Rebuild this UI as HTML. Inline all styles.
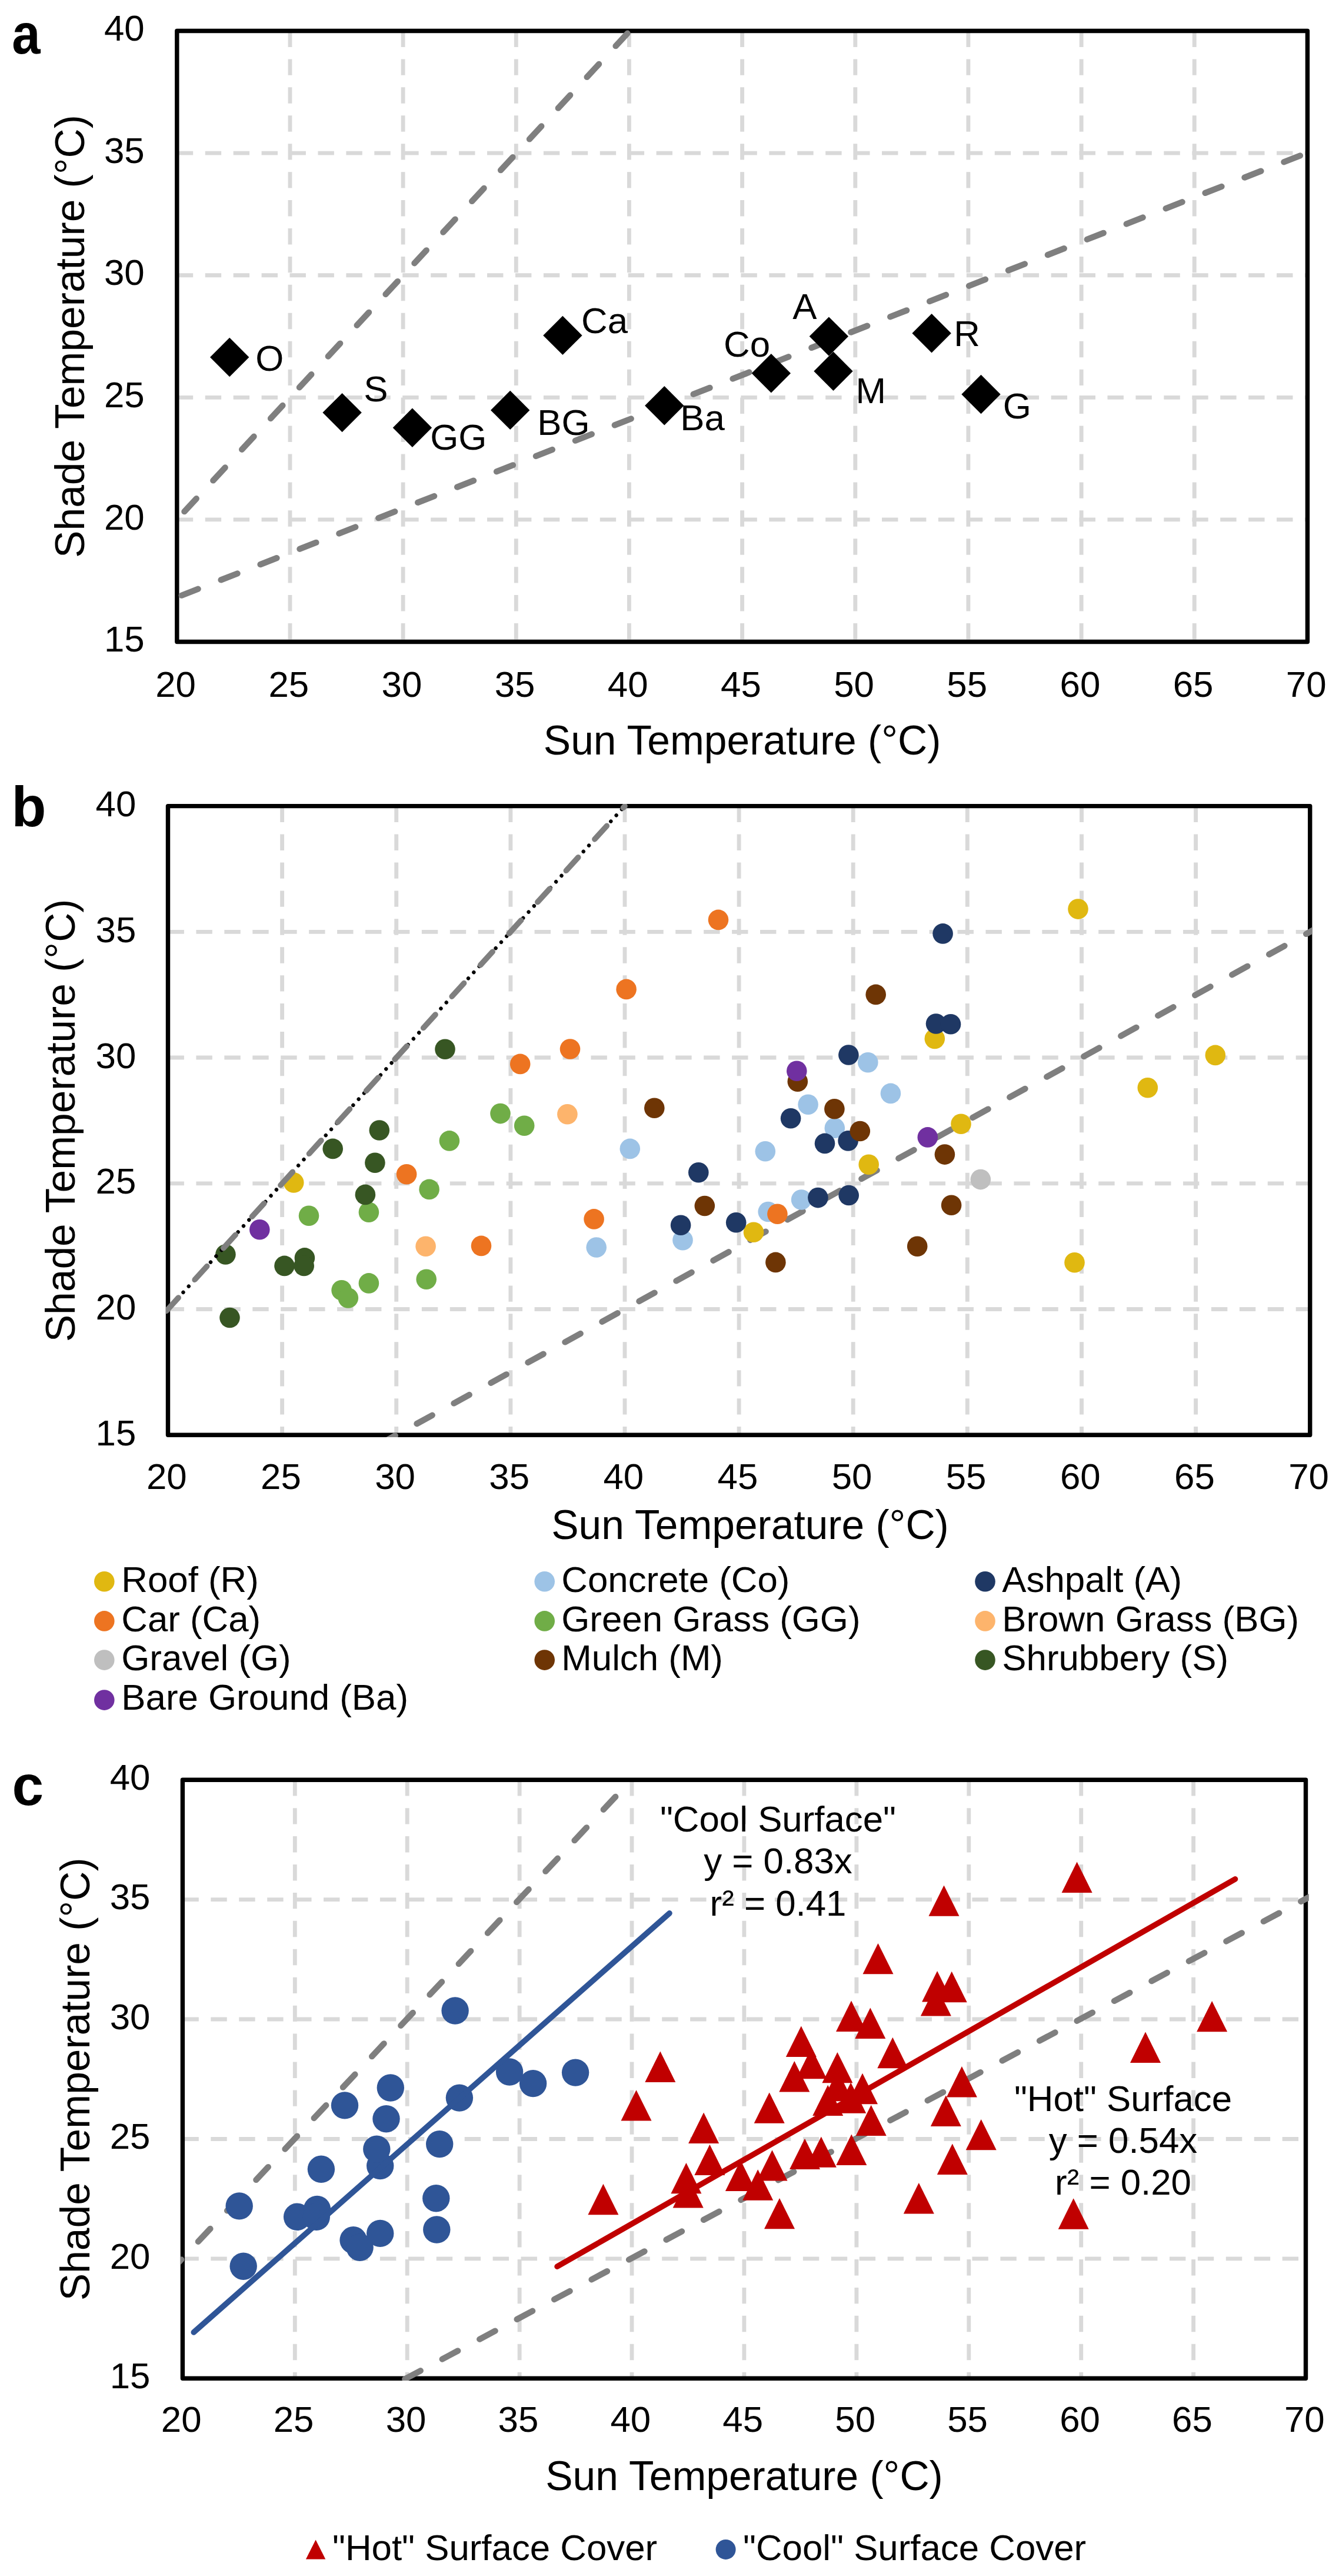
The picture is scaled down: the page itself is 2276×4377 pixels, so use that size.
<!DOCTYPE html>
<html lang="en"><head><meta charset="utf-8"><title>Sun vs shade surface temperature</title>
<style>html,body{margin:0;padding:0;background:#fff}svg{display:block}</style></head>
<body>
<svg width="2276" height="4377" viewBox="0 0 2276 4377" font-family='"Liberation Sans", Arial, Helvetica, sans-serif' fill="#000">
<rect width="2276" height="4377" fill="#fff"/>
<clipPath id="ca"><rect x="300.8" y="48.5" width="1921.6000000000001" height="1042.0"/></clipPath>
<g stroke="#d9d9d9" stroke-width="6.85" stroke-dasharray="27.4 20.53" fill="none"><line x1="493.0" y1="52.5" x2="493.0" y2="1090.5"/><line x1="685.1" y1="52.5" x2="685.1" y2="1090.5"/><line x1="877.3" y1="52.5" x2="877.3" y2="1090.5"/><line x1="1069.4" y1="52.5" x2="1069.4" y2="1090.5"/><line x1="1261.6" y1="52.5" x2="1261.6" y2="1090.5"/><line x1="1453.8" y1="52.5" x2="1453.8" y2="1090.5"/><line x1="1645.9" y1="52.5" x2="1645.9" y2="1090.5"/><line x1="1838.1" y1="52.5" x2="1838.1" y2="1090.5"/><line x1="2030.2" y1="52.5" x2="2030.2" y2="1090.5"/><line x1="300.8" y1="882.9" x2="2222.4" y2="882.9"/><line x1="300.8" y1="675.3" x2="2222.4" y2="675.3"/><line x1="300.8" y1="467.7" x2="2222.4" y2="467.7"/><line x1="300.8" y1="260.1" x2="2222.4" y2="260.1"/></g>
<rect x="300.8" y="52.5" width="1921.6" height="1038.0" fill="none" stroke="#000" stroke-width="7.4" stroke-linejoin="round"/>
<g clip-path="url(#ca)" stroke="#7f7f7f" stroke-width="10.3" stroke-linecap="round" stroke-dasharray="30 41.9" fill="none"><line x1="313.4" y1="869.2" x2="1066.5" y2="56.7"/><line x1="308.7" y1="1011.7" x2="2209.9" y2="264.5"/></g>
<g font-size="61.8"><text x="434.2" y="629.5">O</text><text x="618.2" y="682">S</text><text x="731.2" y="763.5">GG</text><text x="913.2" y="739">BG</text><text x="988.1" y="565.6">Ca</text><text x="1156.2" y="731.4">Ba</text><text x="1230.1" y="605.5">Co</text><text x="1347.2" y="542">A</text><text x="1454.5" y="685.4">M</text><text x="1621.2" y="588.2">R</text><text x="1704.7" y="710.5">G</text></g>
<g fill="#000"><path d="M357.0 607.0L390.2 573.8L423.4 607.0L390.2 640.2Z"/><path d="M548.4 701.1L581.6 667.9L614.8 701.1L581.6 734.3Z"/><path d="M667.7 726.7L700.9 693.5L734.1 726.7L700.9 759.9Z"/><path d="M834.0 696.9L867.2 663.7L900.4 696.9L867.2 730.1Z"/><path d="M923.2 569.9L956.4 536.7L989.6 569.9L956.4 603.1Z"/><path d="M1096.1 689.3L1129.3 656.1L1162.5 689.3L1129.3 722.5Z"/><path d="M1277.6 634.2L1310.8 601.0L1344.0 634.2L1310.8 667.4Z"/><path d="M1375.7 571.6L1408.9 538.4L1442.1 571.6L1408.9 604.8Z"/><path d="M1383.3 630.8L1416.5 597.6L1449.7 630.8L1416.5 664.0Z"/><path d="M1550.4 566.2L1583.6 533.0L1616.8 566.2L1583.6 599.4Z"/><path d="M1634.3 670.0L1667.5 636.8L1700.7 670.0L1667.5 703.2Z"/></g>
<g font-size="61.8"><text x="298.6" y="1184.0" text-anchor="middle">20</text><text x="490.8" y="1184.0" text-anchor="middle">25</text><text x="682.9" y="1184.0" text-anchor="middle">30</text><text x="875.1" y="1184.0" text-anchor="middle">35</text><text x="1067.2" y="1184.0" text-anchor="middle">40</text><text x="1259.4" y="1184.0" text-anchor="middle">45</text><text x="1451.6" y="1184.0" text-anchor="middle">50</text><text x="1643.7" y="1184.0" text-anchor="middle">55</text><text x="1835.9" y="1184.0" text-anchor="middle">60</text><text x="2028.0" y="1184.0" text-anchor="middle">65</text><text x="2220.2" y="1184.0" text-anchor="middle">70</text><text x="245.7" y="1107.1" text-anchor="end">15</text><text x="245.7" y="899.5" text-anchor="end">20</text><text x="245.7" y="691.9" text-anchor="end">25</text><text x="245.7" y="484.3" text-anchor="end">30</text><text x="245.7" y="276.7" text-anchor="end">35</text><text x="245.7" y="69.1" text-anchor="end">40</text></g>
<text x="1261.6" y="1282.2" text-anchor="middle" font-size="69.5">Sun Temperature (°C)</text>
<text transform="translate(142.9,571.5) rotate(-90)" text-anchor="middle" font-size="69.5">Shade Temperature (°C)</text>
<text transform="translate(20.2,91.2) scale(0.9,1)" font-size="96.5" font-weight="bold">a</text>
<clipPath id="cb"><rect x="281.8" y="1365.8999999999999" width="1948.6" height="1076.0"/></clipPath>
<g stroke="#d9d9d9" stroke-width="6.85" stroke-dasharray="27.4 20.53" fill="none"><line x1="479.6" y1="1369.6" x2="479.6" y2="2438.2"/><line x1="673.7" y1="1369.6" x2="673.7" y2="2438.2"/><line x1="867.9" y1="1369.6" x2="867.9" y2="2438.2"/><line x1="1062.0" y1="1369.6" x2="1062.0" y2="2438.2"/><line x1="1256.1" y1="1369.6" x2="1256.1" y2="2438.2"/><line x1="1450.2" y1="1369.6" x2="1450.2" y2="2438.2"/><line x1="1644.3" y1="1369.6" x2="1644.3" y2="2438.2"/><line x1="1838.5" y1="1369.6" x2="1838.5" y2="2438.2"/><line x1="2032.6" y1="1369.6" x2="2032.6" y2="2438.2"/><line x1="285.5" y1="2224.5" x2="2226.7" y2="2224.5"/><line x1="285.5" y1="2010.8" x2="2226.7" y2="2010.8"/><line x1="285.5" y1="1797.0" x2="2226.7" y2="1797.0"/><line x1="285.5" y1="1583.3" x2="2226.7" y2="1583.3"/></g>
<rect x="285.5" y="1369.6" width="1941.2" height="1068.6" fill="none" stroke="#000" stroke-width="7.4" stroke-linejoin="round"/>
<g clip-path="url(#cb)"><line x1="645.5" y1="2453.8" x2="2306.7" y2="1539.3" stroke="#7f7f7f" stroke-width="10.3" stroke-linecap="round" stroke-dasharray="30 41.9"/></g>
<g fill="#e0b811"><circle cx="499.2" cy="2009.4" r="17.3"/><circle cx="1476.7" cy="1978.7" r="17.3"/><circle cx="1633.5" cy="1909.7" r="17.3"/><circle cx="1281.0" cy="2093.8" r="17.3"/><circle cx="1826.5" cy="2145.3" r="17.3"/><circle cx="1832.5" cy="1544.6" r="17.3"/><circle cx="1588.8" cy="1764.9" r="17.3"/><circle cx="2065.8" cy="1792.9" r="17.3"/><circle cx="1950.8" cy="1848.2" r="17.3"/></g><g fill="#9dc3e6"><circle cx="1070.8" cy="1951.9" r="17.3"/><circle cx="1013.7" cy="2119.5" r="17.3"/><circle cx="1160.5" cy="2107.2" r="17.3"/><circle cx="1373.6" cy="1876.8" r="17.3"/><circle cx="1418.8" cy="1916.8" r="17.3"/><circle cx="1300.8" cy="1956.3" r="17.3"/><circle cx="1362.1" cy="2038.5" r="17.3"/><circle cx="1305.7" cy="2059.0" r="17.3"/><circle cx="1513.9" cy="1857.9" r="17.3"/><circle cx="1475.3" cy="1805.2" r="17.3"/></g><g fill="#1f3864"><circle cx="1187.3" cy="1992.2" r="17.3"/><circle cx="1157.1" cy="2081.8" r="17.3"/><circle cx="1251.2" cy="2077.3" r="17.3"/><circle cx="1344.1" cy="1900.3" r="17.3"/><circle cx="1402.0" cy="1942.9" r="17.3"/><circle cx="1441.6" cy="1938.4" r="17.3"/><circle cx="1390.4" cy="2035.1" r="17.3"/><circle cx="1442.7" cy="2031.0" r="17.3"/><circle cx="1442.4" cy="1792.5" r="17.3"/><circle cx="1602.6" cy="1586.4" r="17.3"/><circle cx="1591.0" cy="1739.5" r="17.3"/><circle cx="1616.0" cy="1740.3" r="17.3"/></g><g fill="#ed7421"><circle cx="691.1" cy="1995.2" r="17.3"/><circle cx="818.0" cy="2116.9" r="17.3"/><circle cx="1009.6" cy="2071.4" r="17.3"/><circle cx="1321.4" cy="2062.8" r="17.3"/><circle cx="884.2" cy="1807.9" r="17.3"/><circle cx="969.0" cy="1782.5" r="17.3"/><circle cx="1221.0" cy="1562.9" r="17.3"/><circle cx="1064.6" cy="1680.9" r="17.3"/></g><g fill="#70ad47"><circle cx="763.9" cy="1938.4" r="17.3"/><circle cx="729.6" cy="2020.9" r="17.3"/><circle cx="525.0" cy="2065.8" r="17.3"/><circle cx="626.9" cy="2059.8" r="17.3"/><circle cx="626.9" cy="2180.4" r="17.3"/><circle cx="580.6" cy="2192.3" r="17.3"/><circle cx="591.8" cy="2205.4" r="17.3"/><circle cx="724.7" cy="2173.7" r="17.3"/><circle cx="850.5" cy="1892.1" r="17.3"/><circle cx="891.2" cy="1912.7" r="17.3"/></g><g fill="#fdb46c"><circle cx="723.6" cy="2117.7" r="17.3"/><circle cx="964.4" cy="1893.2" r="17.3"/></g><g fill="#bfbfbf"><circle cx="1666.8" cy="2004.1" r="17.3"/></g><g fill="#6e3505"><circle cx="1112.3" cy="1882.8" r="17.3"/><circle cx="1197.8" cy="2049.0" r="17.3"/><circle cx="1418.4" cy="1884.3" r="17.3"/><circle cx="1461.8" cy="1922.0" r="17.3"/><circle cx="1605.9" cy="1961.6" r="17.3"/><circle cx="1617.1" cy="2047.8" r="17.3"/><circle cx="1559.2" cy="2117.7" r="17.3"/><circle cx="1318.4" cy="2144.9" r="17.3"/><circle cx="1355.8" cy="1837.7" r="17.3"/><circle cx="1488.7" cy="1689.9" r="17.3"/></g><g fill="#375623"><circle cx="644.8" cy="1920.5" r="17.3"/><circle cx="565.7" cy="1951.9" r="17.3"/><circle cx="637.4" cy="1975.8" r="17.3"/><circle cx="620.9" cy="2029.9" r="17.3"/><circle cx="383.4" cy="2131.5" r="17.3"/><circle cx="483.5" cy="2150.9" r="17.3"/><circle cx="517.9" cy="2137.4" r="17.3"/><circle cx="516.7" cy="2150.9" r="17.3"/><circle cx="390.5" cy="2239.0" r="17.3"/><circle cx="756.5" cy="1782.8" r="17.3"/></g><g fill="#7030a0"><circle cx="441.3" cy="2089.3" r="17.3"/><circle cx="1576.8" cy="1932.4" r="17.3"/><circle cx="1354.3" cy="1819.8" r="17.3"/></g>
<g clip-path="url(#cb)" fill="none" stroke-linecap="round"><line x1="285.5" y1="2224.5" x2="1062.0" y2="1369.6" stroke="#000" stroke-width="6.4" stroke-dasharray="0.01 13.85" stroke-dashoffset="2.95"/><line x1="282.7" y1="2227.6" x2="1062.0" y2="1369.6" stroke="#7f7f7f" stroke-width="9.5" stroke-dasharray="30.5 41.7"/></g>
<g font-size="61.8"><text x="283.3" y="2529.5" text-anchor="middle">20</text><text x="477.4" y="2529.5" text-anchor="middle">25</text><text x="671.5" y="2529.5" text-anchor="middle">30</text><text x="865.7" y="2529.5" text-anchor="middle">35</text><text x="1059.8" y="2529.5" text-anchor="middle">40</text><text x="1253.9" y="2529.5" text-anchor="middle">45</text><text x="1448.0" y="2529.5" text-anchor="middle">50</text><text x="1642.1" y="2529.5" text-anchor="middle">55</text><text x="1836.3" y="2529.5" text-anchor="middle">60</text><text x="2030.4" y="2529.5" text-anchor="middle">65</text><text x="2224.5" y="2529.5" text-anchor="middle">70</text><text x="231.3" y="2455.8" text-anchor="end">15</text><text x="231.3" y="2242.1" text-anchor="end">20</text><text x="231.3" y="2028.4" text-anchor="end">25</text><text x="231.3" y="1814.6" text-anchor="end">30</text><text x="231.3" y="1600.9" text-anchor="end">35</text><text x="231.3" y="1387.2" text-anchor="end">40</text></g>
<text x="1275.0" y="2615.4" text-anchor="middle" font-size="69.5">Sun Temperature (°C)</text>
<text transform="translate(127.4,1903.9) rotate(-90)" text-anchor="middle" font-size="69.5">Shade Temperature (°C)</text>
<text transform="translate(19.4,1404.4) scale(1.0,1)" font-size="96.5" font-weight="bold">b</text>
<g font-size="61.8"><circle cx="177.3" cy="2687.3" r="17.3" fill="#e0b811"/><text x="206.3" y="2704.8">Roof (R)</text><circle cx="925.7" cy="2687.3" r="17.3" fill="#9dc3e6"/><text x="954.3" y="2704.8">Concrete (Co)</text><circle cx="1674.5" cy="2687.3" r="17.3" fill="#1f3864"/><text x="1703.3" y="2704.8">Ashpalt (A)</text><circle cx="177.3" cy="2754.4" r="17.3" fill="#ed7421"/><text x="206.3" y="2771.6">Car (Ca)</text><circle cx="925.7" cy="2754.4" r="17.3" fill="#70ad47"/><text x="954.3" y="2771.6">Green Grass (GG)</text><circle cx="1674.5" cy="2754.4" r="17.3" fill="#fdb46c"/><text x="1703.3" y="2771.6">Brown Grass (BG)</text><circle cx="177.3" cy="2820.6" r="17.3" fill="#bfbfbf"/><text x="206.3" y="2838.4">Gravel (G)</text><circle cx="925.7" cy="2820.6" r="17.3" fill="#6e3505"/><text x="954.3" y="2838.4">Mulch (M)</text><circle cx="1674.5" cy="2820.6" r="17.3" fill="#375623"/><text x="1703.3" y="2838.4">Shrubbery (S)</text><circle cx="177.3" cy="2888.6" r="17.3" fill="#7030a0"/><text x="206.3" y="2905.2">Bare Ground (Ba)</text></g>
<clipPath id="cc"><rect x="306.7" y="3020.5" width="1918.1" height="1024.5000000000005"/></clipPath>
<g stroke="#d9d9d9" stroke-width="6.85" stroke-dasharray="27.4 20.53" fill="none"><line x1="501.3" y1="3024.2" x2="501.3" y2="4041.3"/><line x1="692.2" y1="3024.2" x2="692.2" y2="4041.3"/><line x1="883.1" y1="3024.2" x2="883.1" y2="4041.3"/><line x1="1074.0" y1="3024.2" x2="1074.0" y2="4041.3"/><line x1="1264.9" y1="3024.2" x2="1264.9" y2="4041.3"/><line x1="1455.9" y1="3024.2" x2="1455.9" y2="4041.3"/><line x1="1646.8" y1="3024.2" x2="1646.8" y2="4041.3"/><line x1="1837.7" y1="3024.2" x2="1837.7" y2="4041.3"/><line x1="2028.6" y1="3024.2" x2="2028.6" y2="4041.3"/><line x1="310.4" y1="3837.9" x2="2219.5" y2="3837.9"/><line x1="310.4" y1="3634.5" x2="2219.5" y2="3634.5"/><line x1="310.4" y1="3431.0" x2="2219.5" y2="3431.0"/><line x1="310.4" y1="3227.6" x2="2219.5" y2="3227.6"/></g>
<rect x="310.4" y="3024.2" width="1909.1" height="1017.1" fill="none" stroke="#000" stroke-width="7.4" stroke-linejoin="round"/>
<g clip-path="url(#cc)" stroke="#7f7f7f" stroke-width="10.3" stroke-linecap="round" stroke-dasharray="30 41.9" fill="none"><line x1="287.7" y1="3861.2" x2="1074.5" y2="3022.8"/><line x1="688.3" y1="4042.3" x2="2300" y2="3183.6"/></g>
<g fill="#c00000"><path d="M1454.7 3629.1L1480.7 3576.7L1506.7 3629.1Z"/><path d="M1608.9 3563.5L1634.9 3511.1L1660.9 3563.5Z"/><path d="M1262.2 3738.7L1288.2 3686.3L1314.2 3738.7Z"/><path d="M1798.7 3787.7L1824.7 3735.3L1850.7 3787.7Z"/><path d="M1804.6 3216.0L1830.6 3163.6L1856.6 3216.0Z"/><path d="M1564.9 3425.6L1590.9 3373.2L1616.9 3425.6Z"/><path d="M2034.1 3452.3L2060.1 3399.9L2086.1 3452.3Z"/><path d="M1921.0 3504.9L1947.0 3452.5L1973.0 3504.9Z"/><path d="M1055.5 3603.6L1081.5 3551.2L1107.5 3603.6Z"/><path d="M999.4 3763.2L1025.4 3710.8L1051.4 3763.2Z"/><path d="M1143.7 3751.5L1169.7 3699.1L1195.7 3751.5Z"/><path d="M1353.3 3532.2L1379.3 3479.8L1405.3 3532.2Z"/><path d="M1397.8 3570.2L1423.8 3517.8L1449.8 3570.2Z"/><path d="M1281.7 3607.8L1307.7 3555.4L1333.7 3607.8Z"/><path d="M1342.0 3686.1L1368.0 3633.7L1394.0 3686.1Z"/><path d="M1286.5 3705.6L1312.5 3653.2L1338.5 3705.6Z"/><path d="M1491.3 3514.2L1517.3 3461.8L1543.3 3514.2Z"/><path d="M1453.3 3464.0L1479.3 3411.6L1505.3 3464.0Z"/><path d="M1170.1 3642.0L1196.1 3589.6L1222.1 3642.0Z"/><path d="M1140.4 3727.3L1166.4 3674.9L1192.4 3727.3Z"/><path d="M1232.9 3723.0L1258.9 3670.6L1284.9 3723.0Z"/><path d="M1324.3 3554.5L1350.3 3502.1L1376.3 3554.5Z"/><path d="M1381.2 3595.1L1407.2 3542.7L1433.2 3595.1Z"/><path d="M1420.2 3590.8L1446.2 3538.4L1472.2 3590.8Z"/><path d="M1369.8 3682.8L1395.8 3630.4L1421.8 3682.8Z"/><path d="M1421.3 3678.9L1447.3 3626.5L1473.3 3678.9Z"/><path d="M1421.0 3451.9L1447.0 3399.5L1473.0 3451.9Z"/><path d="M1578.5 3255.8L1604.5 3203.4L1630.5 3255.8Z"/><path d="M1567.1 3401.5L1593.1 3349.1L1619.1 3401.5Z"/><path d="M1591.7 3402.2L1617.7 3349.8L1643.7 3402.2Z"/><path d="M1641.7 3653.3L1667.7 3600.9L1693.7 3653.3Z"/><path d="M1096.3 3537.9L1122.3 3485.5L1148.3 3537.9Z"/><path d="M1180.4 3696.1L1206.4 3643.7L1232.4 3696.1Z"/><path d="M1397.4 3539.3L1423.4 3486.9L1449.4 3539.3Z"/><path d="M1440.0 3575.2L1466.0 3522.8L1492.0 3575.2Z"/><path d="M1581.8 3612.9L1607.8 3560.5L1633.8 3612.9Z"/><path d="M1592.8 3694.9L1618.8 3642.5L1644.8 3694.9Z"/><path d="M1535.8 3761.4L1561.8 3709.0L1587.8 3761.4Z"/><path d="M1299.0 3787.3L1325.0 3734.9L1351.0 3787.3Z"/><path d="M1335.8 3494.9L1361.8 3442.5L1387.8 3494.9Z"/><path d="M1466.5 3354.3L1492.5 3301.9L1518.5 3354.3Z"/></g>
<g fill="#2f5597"><circle cx="780.9" cy="3564.6" r="23.2"/><circle cx="747.2" cy="3643.1" r="23.2"/><circle cx="545.9" cy="3685.8" r="23.2"/><circle cx="646.2" cy="3680.1" r="23.2"/><circle cx="646.2" cy="3794.9" r="23.2"/><circle cx="600.6" cy="3806.3" r="23.2"/><circle cx="611.6" cy="3818.7" r="23.2"/><circle cx="742.3" cy="3788.5" r="23.2"/><circle cx="866.1" cy="3520.5" r="23.2"/><circle cx="906.1" cy="3540.1" r="23.2"/><circle cx="741.3" cy="3735.2" r="23.2"/><circle cx="978.1" cy="3521.6" r="23.2"/><circle cx="663.8" cy="3547.5" r="23.2"/><circle cx="586.0" cy="3577.4" r="23.2"/><circle cx="656.5" cy="3600.2" r="23.2"/><circle cx="640.3" cy="3651.7" r="23.2"/><circle cx="406.7" cy="3748.4" r="23.2"/><circle cx="505.1" cy="3766.8" r="23.2"/><circle cx="539.0" cy="3754.0" r="23.2"/><circle cx="537.8" cy="3766.8" r="23.2"/><circle cx="413.7" cy="3850.7" r="23.2"/><circle cx="773.6" cy="3416.5" r="23.2"/></g>
<g stroke-linecap="round" stroke-width="9.6" fill="none"><line x1="329.3" y1="3962.9" x2="1138" y2="3250.8" stroke="#2f5597"/><line x1="947.1" y1="3851.2" x2="2099.5" y2="3192.8" stroke="#c00000"/></g>
<g font-size="61.8"><text x="308.2" y="4131.5" text-anchor="middle">20</text><text x="499.1" y="4131.5" text-anchor="middle">25</text><text x="690.0" y="4131.5" text-anchor="middle">30</text><text x="880.9" y="4131.5" text-anchor="middle">35</text><text x="1071.8" y="4131.5" text-anchor="middle">40</text><text x="1262.7" y="4131.5" text-anchor="middle">45</text><text x="1453.7" y="4131.5" text-anchor="middle">50</text><text x="1644.6" y="4131.5" text-anchor="middle">55</text><text x="1835.5" y="4131.5" text-anchor="middle">60</text><text x="2026.4" y="4131.5" text-anchor="middle">65</text><text x="2217.3" y="4131.5" text-anchor="middle">70</text><text x="255.5" y="4057.9" text-anchor="end">15</text><text x="255.5" y="3854.5" text-anchor="end">20</text><text x="255.5" y="3651.1" text-anchor="end">25</text><text x="255.5" y="3447.6" text-anchor="end">30</text><text x="255.5" y="3244.2" text-anchor="end">35</text><text x="255.5" y="3040.8" text-anchor="end">40</text></g>
<text x="1265.0" y="4231.2" text-anchor="middle" font-size="69.5">Sun Temperature (°C)</text>
<text transform="translate(152.3,3532.8) rotate(-90)" text-anchor="middle" font-size="69.5">Shade Temperature (°C)</text>
<text transform="translate(20.5,3066.9) scale(1.0,1)" font-size="96.5" font-weight="bold">c</text>
<g font-size="61.8" text-anchor="middle"><text x="1322.5" y="3111.8">"Cool Surface"</text><text x="1322.5" y="3183.4">y = 0.83x</text><text x="1322.5" y="3255">r² = 0.41</text><text x="1909" y="3586.8">"Hot" Surface</text><text x="1909" y="3657.6">y = 0.54x</text><text x="1909" y="3728.8">r² = 0.20</text></g>
<path d="M519.9 4348.5L536.6 4315.5L553.3 4348.5Z" fill="#c00000"/>
<circle cx="1233.6" cy="4331.9" r="17" fill="#2f5597"/>
<g font-size="61.8"><text x="565" y="4349.9">"Hot" Surface Cover</text><text x="1263" y="4349.9">"Cool" Surface Cover</text></g>
</svg>
</body></html>
